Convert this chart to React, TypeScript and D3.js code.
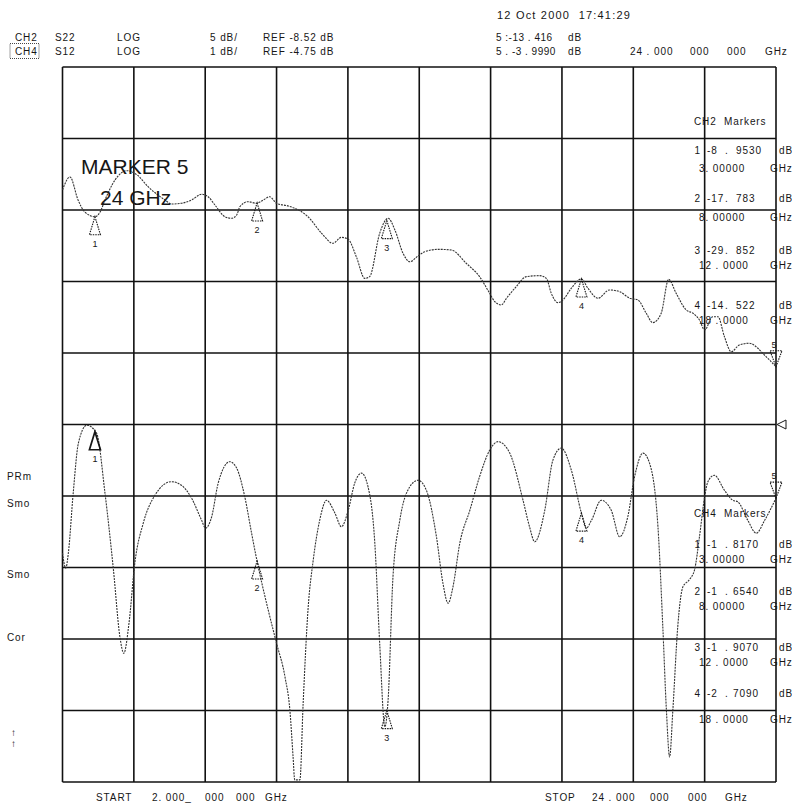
import React from "react";
import * as d3 from "d3";

// S22 (CH2) and S12 (CH4) sweeps, [GHz, dB]
const s22Trace: [number, number][] = [
  [2.0, -7.12], [2.23, -6.21], [2.48, -7.82], [2.69, -8.66], [3.0, -8.99], [3.16, -8.66],
  [3.31, -7.82], [3.62, -6.42], [3.98, -5.77], [4.3, -6.07], [4.64, -6.89], [5.16, -7.82],
  [5.36, -8.1], [5.67, -8.05], [5.98, -7.82], [6.29, -7.42], [6.49, -7.59], [6.7, -8.17],
  [7.01, -8.99], [7.21, -9.1], [7.37, -8.87], [7.47, -8.29], [7.72, -7.94], [7.98, -8.05],
  [8.19, -7.82], [8.39, -7.59], [8.6, -8.05], [8.96, -8.24], [9.16, -8.4], [9.57, -8.99],
  [9.99, -10.15], [10.34, -10.85], [10.6, -10.43], [10.81, -10.57], [11.06, -11.79], [11.32, -13.3],
  [11.47, -13.18], [11.78, -10.15], [12.04, -9.1], [12.25, -9.92], [12.5, -11.55], [12.71, -12.14],
  [12.96, -11.74], [13.17, -11.44], [13.58, -11.27], [13.99, -11.32], [14.45, -12.25], [14.86, -13.18],
  [15.17, -14.34], [15.33, -14.93], [15.53, -15.16], [15.69, -14.69], [15.99, -13.88], [16.3, -13.18],
  [16.71, -13.11], [16.92, -13.3], [17.07, -14.34], [17.28, -15.0], [17.43, -14.81], [17.69, -13.99],
  [18.0, -13.34], [18.2, -13.99], [18.51, -14.69], [18.87, -14.11], [19.18, -14.23], [19.49, -14.69],
  [19.74, -14.81], [20.0, -15.74], [20.2, -16.4], [20.46, -15.74], [20.69, -13.37], [20.92, -14.34],
  [21.23, -15.51], [21.44, -15.74], [21.64, -16.21], [21.8, -16.91], [22.05, -15.98], [22.21, -15.98],
  [22.41, -17.38], [22.62, -18.43], [22.87, -17.96], [23.18, -17.84], [23.44, -18.19], [23.59, -18.54],
  [23.8, -19.01], [24.0, -19.48],
];

const s12Trace: [number, number][] = [
  [2.0, -6.55], [2.1, -6.76], [2.18, -6.55], [2.33, -5.71], [2.49, -5.01], [2.75, -4.76],
  [3.05, -4.87], [3.31, -5.71], [3.57, -6.78], [3.77, -7.72], [3.89, -7.95], [4.05, -7.53],
  [4.23, -6.69], [4.49, -6.13], [4.85, -5.74], [5.36, -5.55], [5.67, -5.6], [5.98, -5.78],
  [6.29, -6.09], [6.41, -6.2], [6.6, -6.04], [6.8, -5.57], [7.16, -5.27], [7.37, -5.36],
  [7.62, -5.76], [7.83, -6.27], [7.98, -6.62], [8.34, -7.34], [8.6, -7.81], [8.86, -8.28],
  [9.01, -8.74], [9.11, -9.4], [9.16, -9.72], [9.32, -9.72], [9.42, -8.65], [9.57, -7.34],
  [9.73, -6.65], [9.93, -6.09], [10.14, -5.81], [10.4, -5.99], [10.6, -6.18], [10.81, -5.95],
  [11.01, -5.57], [11.22, -5.43], [11.42, -5.62], [11.63, -6.41], [11.78, -7.81], [11.94, -8.98],
  [12.04, -8.6], [12.19, -6.88], [12.4, -6.09], [12.71, -5.62], [12.96, -5.53], [13.22, -5.67],
  [13.53, -6.32], [13.73, -6.97], [13.89, -7.25], [14.04, -7.02], [14.25, -6.41], [14.56, -5.95],
  [14.86, -5.48], [15.17, -5.11], [15.43, -4.99], [15.79, -5.15], [16.2, -5.81], [16.4, -6.18],
  [16.56, -6.39], [16.87, -5.95], [17.12, -5.25], [17.38, -5.08], [17.69, -5.39], [18.0, -5.99],
  [18.15, -6.2], [18.31, -6.09], [18.61, -5.81], [18.92, -5.95], [19.18, -6.32], [19.43, -6.04],
  [19.64, -5.48], [19.9, -5.15], [20.1, -5.29], [20.36, -6.18], [20.51, -7.58], [20.62, -8.74],
  [20.72, -9.4], [20.82, -8.74], [20.97, -7.58], [21.13, -7.02], [21.33, -6.92], [21.49, -6.78],
  [21.64, -6.32], [21.8, -5.76], [21.9, -5.55], [22.1, -5.46], [22.41, -5.67], [22.67, -5.81],
  [22.82, -5.83], [23.13, -6.09], [23.39, -6.27], [23.65, -6.09], [24.0, -5.78],
];

const markerLabels = ["1", "2", "3", "4"];
const markerGHz = [3, 8, 12, 18];
const marker5GHz = 24;
const ch2MarkerDb = [["-8", "9530"], ["-17", "783"], ["-29", "852"], ["-14", "522"]];
const ch4MarkerDb = [["-1", "8170"], ["-1", "6540"], ["-1", "9070"], ["-2", "7090"]];
const markerFreqText = ["3. 00000", "8. 00000", "12 . 0000", "18 . 0000"];

const headerRow1 = ["CH2", "S22", "LOG", "5 dB/", "REF -8.52 dB", "5 :-13 . 416", "dB"];
const headerRow2 = ["CH4", "S12", "LOG", "1 dB/", "REF -4.75 dB", "5 . -3 . 9990", "dB", "24 . 000", "000", "000", "GHz"];
const dateText = "12 Oct 2000  17:41:29";
const startText = ["START", "2. 000_", "000", "000", "GHz"];
const stopText = ["STOP", "24 . 000", "000", "000", "GHz"];
const sideLabels = ["PRm", "Smo", "Smo", "Cor"];

const ch2 = { ref: -8.52, perDiv: 5, refPos: 8 }; // ref line 8 divisions up from bottom
const ch4 = { ref: -4.75, perDiv: 1, refPos: 5 };

const font = "'Liberation Sans', Arial, sans-serif";
const ink = "#161616";

function valueAt(trace: [number, number][], f: number) {
  const i = d3.bisector((d: [number, number]) => d[0]).left(trace, f);
  if (i <= 0) return trace[0][1];
  if (i >= trace.length) return trace[trace.length - 1][1];
  const [f0, v0] = trace[i - 1];
  const [f1, v1] = trace[i];
  return v0 + ((v1 - v0) * (f - f0)) / (f1 - f0);
}

export default function App() {
  const left = 62.5, right = 776, top = 67, bottom = 782;

  const x = d3.scaleLinear().domain([2, 24]).range([left, right]);
  const yScale = (c: typeof ch2) =>
    d3.scaleLinear()
      .domain([c.ref - c.refPos * c.perDiv, c.ref + (10 - c.refPos) * c.perDiv])
      .range([bottom, top]);
  const y2 = yScale(ch2);
  const y4 = yScale(ch4);

  const vLines = d3.range(0, 11).map((i) => 2 + i * 2.2);
  const hLines = d3.range(0, 11).map((i) => y4.domain()[0] + i * ch4.perDiv);

  const line2 = d3.line<[number, number]>().x((d) => x(d[0])).y((d) => y2(d[1])).curve(d3.curveMonotoneX);
  const line4 = d3.line<[number, number]>().x((d) => x(d[0])).y((d) => y4(d[1])).curve(d3.curveMonotoneX);

  const txt = (props: any, s: string, key?: any) => (
    <text key={key} fontFamily={font} fontSize={10} fill={ink} letterSpacing={0.9} xmlSpace="preserve" {...props}>
      {s}
    </text>
  );

  const upTri = (cx: number, cy: number, label: string, solid: boolean, key: string) => (
    <g key={key}>
      <path
        d={`M${cx},${cy} L${cx + 5.5},${cy + 18} L${cx - 5.5},${cy + 18} Z`}
        fill="none"
        stroke={ink}
        strokeWidth={solid ? 1.7 : 1.1}
        strokeDasharray={solid ? undefined : "1.5 1"}
      />
      {txt({ x: cx, y: cy + 30, textAnchor: "middle", fontSize: 9, letterSpacing: 0 }, label)}
    </g>
  );

  const downTri = (cx: number, cy: number, label: string, key: string) => (
    <g key={key}>
      <path
        d={`M${cx},${cy} L${cx + 6},${cy - 16} L${cx - 6},${cy - 16} Z`}
        fill="none"
        stroke={ink}
        strokeWidth={1.1}
        strokeDasharray="1.5 1"
      />
      {txt({ x: cx - 2, y: cy - 19, textAnchor: "middle", fontSize: 9, letterSpacing: 0 }, label)}
    </g>
  );

  const row1X = [15, 55, 117, 210, 263, 496, 568];
  const row2X = [15, 55, 117, 210, 263, 496, 568, 630, 690, 727, 765];
  const ch2Rows = [[154, 171.5], [201.5, 220.5], [253.5, 268.5], [309, 324]];
  const ch4Rows = [[547.5, 562.5], [595, 610], [650.5, 665.5], [696.5, 722.5]];
  const sideY = [480, 507, 578, 641];
  const startX = [96, 152, 205, 236, 265];
  const stopX = [545, 592, 650, 688, 725];

  return (
    <svg width={792} height={805} style={{ position: "absolute", left: 0, top: 0, background: "#fff" }}>
      <rect width={792} height={805} fill="#fff" />

      {/* header */}
      {txt({ x: 497, y: 19, fontSize: 11, letterSpacing: 1.2 }, dateText)}
      {headerRow1.map((s, i) => txt({ x: row1X[i], y: 40.5, letterSpacing: i === 5 ? 0.5 : 0.9 }, s, "h1" + i))}
      {headerRow2.map((s, i) => txt({ x: row2X[i], y: 55, letterSpacing: i === 5 ? 0.5 : 0.9 }, s, "h2" + i))}
      <rect x={10} y={43.5} width={29} height={15} fill="none" stroke={ink} strokeWidth={0.8} strokeDasharray="1 1" />

      {/* grid */}
      <g stroke="#111" strokeWidth={1.6}>
        {vLines.map((f, i) => (
          <line key={"v" + i} x1={x(f)} x2={x(f)} y1={top} y2={bottom} />
        ))}
        {hLines.map((v, i) => (
          <line key={"h" + i} x1={left} x2={right} y1={y4(v)} y2={y4(v)} />
        ))}
      </g>

      {/* traces */}
      <path d={line2(s22Trace) ?? ""} fill="none" stroke="#333" strokeWidth={1.1} strokeDasharray="2 1" />
      <path d={line4(s12Trace) ?? ""} fill="none" stroke="#333" strokeWidth={1.1} strokeDasharray="2 1" />

      {/* markers */}
      {markerGHz.map((f, i) => upTri(x(f), y2(valueAt(s22Trace, f)), markerLabels[i], false, "m2" + i))}
      {markerGHz.map((f, i) => upTri(x(f), y4(valueAt(s12Trace, f)), markerLabels[i], i === 0, "m4" + i))}
      {downTri(x(marker5GHz), y2(valueAt(s22Trace, marker5GHz)), "5", "m25")}
      {downTri(x(marker5GHz), y4(valueAt(s12Trace, marker5GHz)), "5", "m45")}
      <path
        d={`M${right + 1},${y4(ch4.ref)} L${right + 10},${y4(ch4.ref) - 4.5} L${right + 10},${y4(ch4.ref) + 4.5} Z`}
        fill="none"
        stroke={ink}
        strokeWidth={1}
      />

      {/* big annotation */}
      <text x={81} y={173.5} fontFamily={font} fontSize={21} fill={ink}>MARKER 5</text>
      <text x={100} y={205} fontFamily={font} fontSize={21} fill={ink}>24 GHz</text>

      {/* marker tables */}
      {txt({ x: 694, y: 125 }, "CH2  Markers")}
      {ch2MarkerDb.map((d, i) => (
        <g key={"t2" + i}>
          {txt({ x: 701, y: ch2Rows[i][0], textAnchor: "end" }, markerLabels[i])}
          {txt({ x: 707, y: ch2Rows[i][0] }, d[0])}
          {txt({ x: 725, y: ch2Rows[i][0] }, ".")}
          {txt({ x: 736, y: ch2Rows[i][0] }, d[1])}
          {txt({ x: 779, y: ch2Rows[i][0] }, "dB")}
          {txt({ x: 699, y: ch2Rows[i][1] }, markerFreqText[i])}
          {txt({ x: 770, y: ch2Rows[i][1] }, "GHz")}
        </g>
      ))}
      {txt({ x: 694, y: 516.5 }, "CH4  Markers")}
      {ch4MarkerDb.map((d, i) => (
        <g key={"t4" + i}>
          {txt({ x: 701, y: ch4Rows[i][0], textAnchor: "end" }, markerLabels[i])}
          {txt({ x: 707, y: ch4Rows[i][0] }, d[0])}
          {txt({ x: 725, y: ch4Rows[i][0] }, ".")}
          {txt({ x: 733, y: ch4Rows[i][0] }, d[1])}
          {txt({ x: 779, y: ch4Rows[i][0] }, "dB")}
          {txt({ x: 699, y: ch4Rows[i][1] }, markerFreqText[i])}
          {txt({ x: 770, y: ch4Rows[i][1] }, "GHz")}
        </g>
      ))}

      {/* left side labels */}
      {sideLabels.map((s, i) => txt({ x: 7, y: sideY[i] }, s, "s" + i))}
      {txt({ x: 11, y: 736, fontSize: 10, letterSpacing: 0 }, "↑")}
      {txt({ x: 11, y: 747, fontSize: 10, letterSpacing: 0 }, "↑")}

      {/* start / stop */}
      {startText.map((s, i) => txt({ x: startX[i], y: 801 }, s, "st" + i))}
      {stopText.map((s, i) => txt({ x: stopX[i], y: 801 }, s, "sp" + i))}
    </svg>
  );
}
